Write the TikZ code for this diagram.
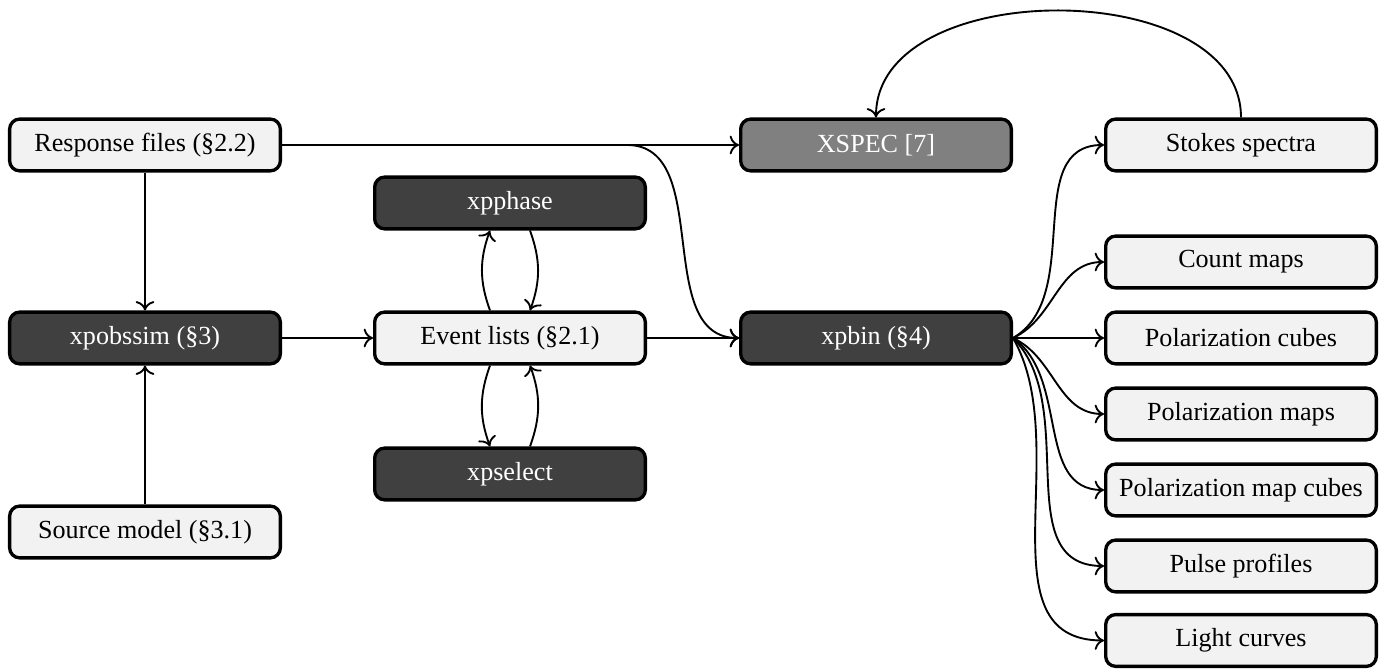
\documentclass[tikz,border=0pt]{standalone}
\usepackage{fontspec}
\setmainfont{Liberation Serif}
\usetikzlibrary{arrows.meta}

\begin{document}
\begin{tikzpicture}[x=0.45pt,y=0.45pt,
  box/.style={draw=black, line width=1.5pt, rounded corners=4.5pt,
    minimum width=121.8pt, minimum height=23.3pt, inner sep=0pt,
    font=\fontsize{11.75}{14}\selectfont},
  lightbox/.style={box, fill=black!5, text=black},
  darkbox/.style={box, fill=black!75, text=white},
  midbox/.style={box, fill=black!50, text=white},
  conn/.style={line width=0.85pt, -{Computer Modern Rightarrow[length=4.2pt,width=8.4pt]}},
]
\useasboundingbox (0,0) rectangle (1390,670);

\node[lightbox] (resp) at (145,525) {Response files (\S2.2)};
\node[darkbox]  (obs)  at (145,332) {xpobssim (\S3)};
\node[lightbox] (src)  at (145,138) {Source model (\S3.1)};

\node[darkbox]  (phase) at (510,467) {xpphase};
\node[lightbox] (ev)    at (510,332) {Event lists (\S2.1)};
\node[darkbox]  (sel)   at (510,196) {xpselect};

\node[midbox]   (xspec) at (876,525) {XSPEC [7]};
\node[darkbox]  (bin)   at (876,332) {xpbin (\S4)};

\node[lightbox] (stokes) at (1241,525) {Stokes spectra};
\node[lightbox] (count)  at (1241,408) {Count maps};
\node[lightbox] (cubes)  at (1241,332) {Polarization cubes};
\node[lightbox] (pmaps)  at (1241,256) {Polarization maps};
\node[lightbox] (mcubes) at (1241,180) {Polarization map cubes};
\node[lightbox] (pulse)  at (1241,104) {Pulse profiles};
\node[lightbox] (light)  at (1241,29.5) {Light curves};

\coordinate (split) at (627,525);

% left column
\draw[conn] (resp) -- (obs);
\draw[conn] (src) -- (obs);
\draw[conn] (obs) -- (ev);

% response files
\draw[conn] (resp.east) -- (xspec.west);
\draw[conn] (resp.east) -- (split) to[out=0,in=180] (bin.west);

% event lists
\draw[conn] (ev) -- (bin);
\draw[conn] ([xshift=-9pt]ev.north) to[bend left=20] ([xshift=-9pt]phase.south);
\draw[conn] ([xshift=9pt]phase.south) to[bend left=20] ([xshift=9pt]ev.north);
\draw[conn] ([xshift=-9pt]ev.south) to[bend right=20] ([xshift=-9pt]sel.north);
\draw[conn] ([xshift=9pt]sel.north) to[bend right=20] ([xshift=9pt]ev.south);

% xpbin fan
\draw[conn] (bin.east) to[out=30,in=180] (stokes.west);
\draw[conn] (bin.east) to[out=25,in=180] (count.west);
\draw[conn] (bin.east) -- (cubes.west);
\draw[conn] (bin.east) to[out=-25,in=180] (pmaps.west);
\draw[conn] (bin.east) to[out=-35,in=180] (mcubes.west);
\draw[conn] (bin.east) to[out=-45,in=180] (pulse.west);
\draw[conn] (bin.east) to[out=-60,in=180] (light.west);

% stokes back to xspec
\draw[conn] (stokes.north) to[out=90,in=90] (xspec.north);
\end{tikzpicture}
\end{document}
